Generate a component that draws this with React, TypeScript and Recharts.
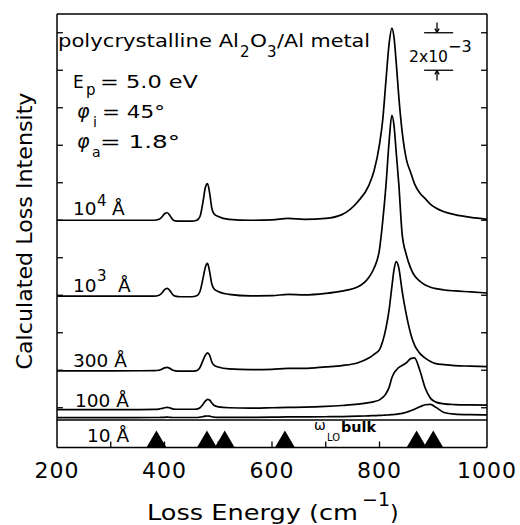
import { ComposedChart, Line, Scatter, XAxis, YAxis, ReferenceLine } from "recharts";

const FONT = "'DejaVu Sans', sans-serif";

// loss energy grid (cm^-1)
const energy = [
  200, 300, 380, 390, 396, 400, 405, 410, 415, 420, 430, 450, 460, 466, 472, 476, 480, 484, 488, 492,
  500, 520, 560, 600, 630, 660, 700, 730, 760, 780, 790, 800, 806, 812, 818, 823, 827, 831, 836, 842,
  850, 858, 865, 875, 885, 895, 905, 920, 940, 970, 1000,
];

// calculated loss intensity (units of 1e-3, curves offset)
const film10000 = [
  12.0, 12.0, 12.0, 12.05, 12.2, 12.35, 12.4, 12.25, 12.05, 11.97, 11.95, 11.95, 12.0, 12.2, 13.05, 13.75, 13.95, 13.45, 12.65, 12.35,
  12.2, 12.05, 12.0, 12.02, 12.1, 12.05, 12.1, 12.3, 13.0, 13.85, 14.65, 16.05, 17.35, 19.45, 21.45, 22.25, 21.75, 20.45, 18.55, 16.75,
  15.25, 14.55, 13.95, 13.45, 13.15, 12.85, 12.65, 12.45, 12.3, 12.15, 12.05,
];
const film1000 = [
  7.95, 7.95, 7.95, 8.0, 8.15, 8.3, 8.37, 8.25, 8.05, 7.95, 7.92, 7.92, 7.97, 8.2, 8.95, 9.5, 9.7, 9.25, 8.6, 8.35,
  8.2, 8.05, 7.97, 7.98, 8.05, 8.02, 8.1, 8.22, 8.45, 8.95, 9.45, 10.45, 11.95, 13.85, 16.25, 17.6, 17.05, 15.65, 13.9, 11.3,
  10.15, 9.45, 9.05, 8.75, 8.55, 8.43, 8.35, 8.28, 8.23, 8.18, 8.12,
];
const film300 = [
  3.97, 3.97, 3.98, 4.0, 4.07, 4.13, 4.15, 4.1, 4.01, 3.97, 3.95, 3.95, 3.98, 4.15, 4.55, 4.8, 4.93, 4.8, 4.45, 4.27,
  4.17, 4.07, 4.03, 4.05, 4.1, 4.1, 4.18, 4.25, 4.4, 4.65, 4.85, 5.1, 5.55, 6.25, 7.25, 8.45, 9.35, 9.79, 9.45, 8.25,
  6.95, 5.95, 5.35, 4.9, 4.65, 4.47, 4.35, 4.3, 4.25, 4.22, 4.19,
];
const film100 = [
  1.9, 1.9, 1.91, 1.93, 1.97, 2.0, 2.02, 1.99, 1.94, 1.92, 1.92, 1.92, 1.93, 2.0, 2.2, 2.35, 2.45, 2.41, 2.25, 2.13,
  2.05, 2.0, 1.98, 2.0, 2.02, 2.03, 2.07, 2.12, 2.19, 2.27, 2.33, 2.42, 2.55, 2.75, 3.1, 3.6, 3.85, 4.0, 4.15, 4.25,
  4.4, 4.62, 4.66, 4.0, 3.05, 2.5, 2.3, 2.21, 2.17, 2.15, 2.14,
];
const film10 = [
  1.47, 1.47, 1.48, 1.48, 1.49, 1.49, 1.5, 1.49, 1.48, 1.48, 1.48, 1.48, 1.48, 1.5, 1.53, 1.55, 1.56, 1.55, 1.52, 1.5,
  1.49, 1.49, 1.49, 1.5, 1.51, 1.51, 1.52, 1.53, 1.55, 1.57, 1.58, 1.59, 1.6, 1.61, 1.62, 1.63, 1.64, 1.65, 1.67, 1.7,
  1.76, 1.84, 1.92, 2.05, 2.16, 2.18, 2.02, 1.75, 1.66, 1.63, 1.62,
];

// bulk LO phonon positions (triangles)
const bulkLO = [385, 479, 512, 624, 869, 900];

const xTicks = [300, 400, 500, 600, 700, 800, 900];
const xLabels = [200, 400, 600, 800, 1000];
const yTicks = [2, 4, 6, 8, 10, 12, 14, 16, 18, 20, 22];
const xMin = 200;
const xMax = 1000;
const yMin = -0.12;
const yMax = 23;

const rows = energy.map((e, i) => ({
  e,
  a10000: film10000[i],
  a1000: film1000[i],
  a300: film300[i],
  a100: film100[i],
  a10: film10[i],
}));
const modes = bulkLO.map((e) => ({ e, y: yMin }));

// 2x10^-3 scale bar, data coords
const scaleBar = [
  [{ x: 883, y: 22 }, { x: 937, y: 22 }],
  [{ x: 907, y: 22.55 }, { x: 907, y: 22.02 }],
  [{ x: 903, y: 22.22 }, { x: 907, y: 22.02 }],
  [{ x: 911, y: 22.22 }, { x: 907, y: 22.02 }],
  [{ x: 883, y: 20 }, { x: 937, y: 20 }],
  [{ x: 907, y: 19.45 }, { x: 907, y: 19.98 }],
  [{ x: 903, y: 19.78 }, { x: 907, y: 19.98 }],
  [{ x: 911, y: 19.78 }, { x: 907, y: 19.98 }],
];

// inward tick marks (length in data units ~6px)
const tickX = 11;
const tickY = 0.32;
const tickSegs = [
  ...yTicks.map((v) => [{ x: xMin, y: v }, { x: xMin + tickX, y: v }]),
  ...yTicks.map((v) => [{ x: xMax - tickX, y: v }, { x: xMax, y: v }]),
  ...xTicks.map((v) => [{ x: v, y: yMin }, { x: v, y: yMin + tickY }]),
];

const series = ["a10000", "a1000", "a300", "a100", "a10"];

const Tri = (p: any) => {
  const { cx, cy } = p;
  return <polygon points={`${cx - 10},${cy} ${cx + 10},${cy} ${cx},${cy - 17}`} fill="#000" />;
};

const axisLine = { stroke: "#000", strokeWidth: 1.5 };

export default function App() {
  return (
    <div style={{ position: "relative", width: 520, height: 525, background: "#fff" }}>
      <style>{"body{margin:0}"}</style>
      <ComposedChart width={520} height={525} data={rows} margin={{ top: 14, right: 32, bottom: 47.5, left: 56 }}>
        <XAxis
          dataKey="e"
          type="number"
          domain={[xMin, xMax]}
          ticks={xLabels}
          interval={0}
          allowDataOverflow
          height={30}
          tickSize={0}
          tickMargin={15}
          axisLine={axisLine}
          tickLine={false}
          tick={{ fill: "#000", fontSize: 22, fontFamily: FONT, letterSpacing: 1 }}
        />
        <YAxis
          yAxisId="l"
          type="number"
          domain={[yMin, yMax]}
          ticks={yTicks}
          allowDataOverflow
          width={1}
          tickLine={false}
          tick={false}
          axisLine={axisLine}
        />
        <YAxis
          yAxisId="r"
          orientation="right"
          type="number"
          domain={[yMin, yMax]}
          ticks={yTicks}
          allowDataOverflow
          width={1}
          tickLine={false}
          tick={false}
          axisLine={axisLine}
        />
        <ReferenceLine yAxisId="l" y={yMax} stroke="#000" strokeWidth={1.5} />
        <ReferenceLine yAxisId="l" y={1.35} stroke="#000" strokeWidth={1.4} />
        {tickSegs.map((seg, i) => (
          <ReferenceLine key={"t" + i} yAxisId="l" segment={seg} stroke="#000" strokeWidth={1.3} />
        ))}
        {scaleBar.map((seg, i) => (
          <ReferenceLine key={"s" + i} yAxisId="l" segment={seg} stroke="#000" strokeWidth={1.3} />
        ))}
        {series.map((k) => (
          <Line
            key={k}
            yAxisId="l"
            dataKey={k}
            type="monotone"
            dot={false}
            stroke="#000"
            strokeWidth={1.7}
            isAnimationActive={false}
          />
        ))}
        <Scatter yAxisId="l" data={modes} dataKey="y" shape={Tri} isAnimationActive={false} />
      </ComposedChart>
      <svg
        width={520}
        height={525}
        style={{ position: "absolute", left: 0, top: 0, pointerEvents: "none" }}
        fontFamily={FONT}
        fill="#000"
      >
        <text x={58} y={47} fontSize={17} textLength={181} lengthAdjust="spacingAndGlyphs">polycrystalline Al</text>
        <text x={240} y={57} fontSize={15}>2</text>
        <text x={250} y={47} fontSize={17} textLength={17} lengthAdjust="spacingAndGlyphs">O</text>
        <text x={267} y={57} fontSize={15}>3</text>
        <text x={277} y={47} fontSize={17} textLength={93} lengthAdjust="spacingAndGlyphs">/Al metal</text>

        <text x={73} y={88} fontSize={17}>E</text>
        <text x={86} y={95} fontSize={15}>p</text>
        <text x={100} y={88} fontSize={17} textLength={98} lengthAdjust="spacingAndGlyphs">= 5.0 eV</text>

        <text x={77} y={118} fontSize={19} fontStyle="italic">φ</text>
        <text x={93} y={127} fontSize={14}>i</text>
        <text x={102} y={118} fontSize={17} textLength={63} lengthAdjust="spacingAndGlyphs">= 45°</text>

        <text x={77} y={148} fontSize={19} fontStyle="italic">φ</text>
        <text x={92} y={157} fontSize={14}>a</text>
        <text x={100} y={148} fontSize={17} textLength={80} lengthAdjust="spacingAndGlyphs">= 1.8°</text>

        <text x={409} y={62} fontSize={16} textLength={39} lengthAdjust="spacingAndGlyphs">2x10</text>
        <text x={448} y={52} fontSize={16}>−3</text>

        <text x={73} y={215} fontSize={18.5}>10</text>
        <text x={97} y={206} fontSize={15}>4</text>
        <text x={112} y={215} fontSize={18.5}>Å</text>

        <text x={73} y={292} fontSize={18.5}>10</text>
        <text x={97} y={281} fontSize={15}>3</text>
        <text x={118} y={292} fontSize={18.5}>Å</text>

        <text x={73} y={367} fontSize={18.5}>300 Å</text>
        <text x={75} y={407} fontSize={18.5}>100 Å</text>
        <text x={87} y={442} fontSize={18.5}>10 Å</text>

        <text x={314} y={430} fontSize={14}>ω</text>
        <text x={327} y={441} fontSize={11} textLength={13} lengthAdjust="spacingAndGlyphs">LO</text>
        <text x={341} y={432} fontSize={14} fontWeight="bold" textLength={35} lengthAdjust="spacingAndGlyphs">bulk</text>

        <text x={147} y={520} fontSize={22} textLength={211} lengthAdjust="spacingAndGlyphs">Loss Energy (cm</text>
        <text x={362} y={506} fontSize={19}>−1</text>
        <text x={390} y={520} fontSize={22}>)</text>

        <text
          x={32}
          y={231}
          fontSize={22}
          textAnchor="middle"
          transform="rotate(-90 32 231)"
          textLength={277}
          lengthAdjust="spacingAndGlyphs"
        >
          Calculated Loss Intensity
        </text>
      </svg>
    </div>
  );
}
